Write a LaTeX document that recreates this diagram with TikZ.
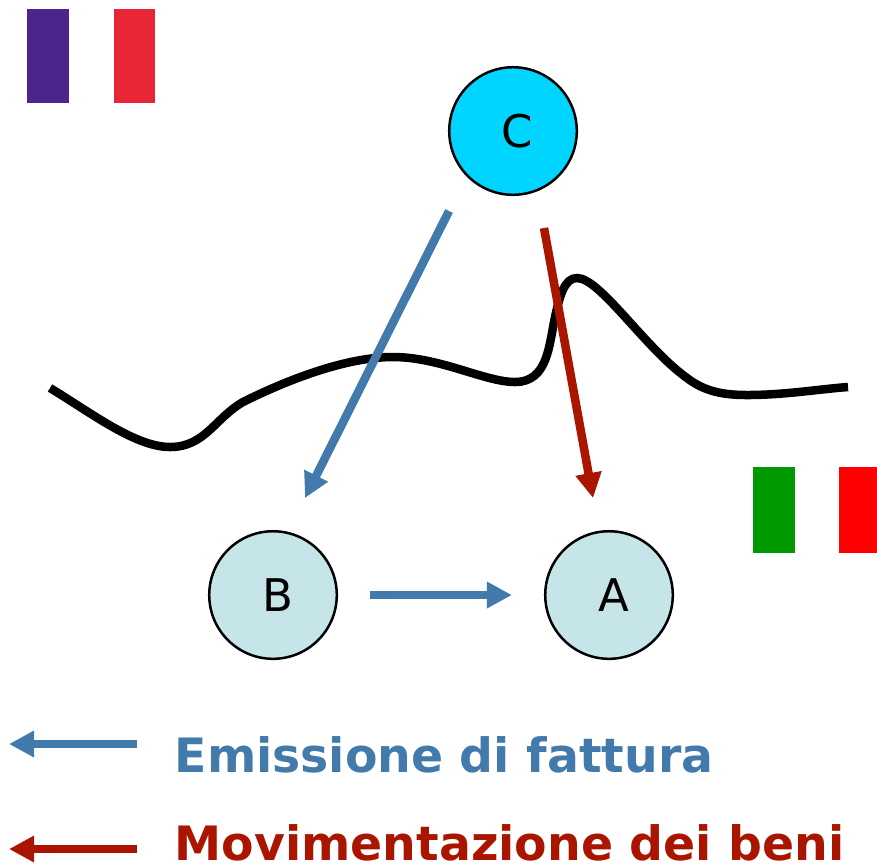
\documentclass[tikz,border=0pt]{standalone}
\usepackage{fontspec}
\setmainfont{DejaVu Sans}
\usetikzlibrary{arrows.meta}

\definecolor{fattura}{HTML}{427BAB}
\definecolor{beni}{HTML}{AA1500}
\definecolor{celeste}{HTML}{00D5FF}
\definecolor{acqua}{HTML}{C5E5E8}
\definecolor{viola}{HTML}{4B248C}
\definecolor{rosso}{HTML}{E92636}
\definecolor{verde}{HTML}{009900}

\tikzset{
  soggetto/.style = {circle, draw=black, line width=0.025cm, minimum size=1.275cm,
    inner sep=0pt, font=\fontsize{12.8}{15}\selectfont},
  freccia/.style = {line width=0.085cm, -{Triangle[length=0.25cm,width=0.25cm]}},
  legenda/.style = {anchor=base west, inner sep=0pt, font=\fontsize{13.46}{16}\selectfont\bfseries}
}

\begin{document}
\begin{tikzpicture}[x=0.01cm, y=-0.01cm]
  \useasboundingbox (0,0) rectangle (877,863);

  % Flags
  \fill[viola] (27,9) rectangle (69,103);
  \fill[rosso] (114,9) rectangle (155,103);
  \fill[verde] (753,467) rectangle (795,553);
  \fill[red] (839,467) rectangle (877,553);

  % Border
  \draw[line width=0.085cm] (50,388)
    .. controls (90,412) and (135,447) .. (170,447)
    .. controls (205,447) and (215,418) .. (243,402)
    .. controls (285,381) and (345,357) .. (393,357)
    .. controls (440,357) and (485,382) .. (515,382)
    .. controls (548,382) and (549,345) .. (555,317)
    .. controls (560,294) and (565,278) .. (577,278)
    .. controls (600,278) and (645,348) .. (687,378)
    .. controls (705,392) and (725,395) .. (747,395)
    .. controls (785,395) and (820,389) .. (848,387);

  % Subjects
  \foreach \name/\x/\y/\fillcolor in {C/513/131/celeste, B/273/595/acqua, A/609/595/acqua} {
    \node[soggetto, fill=\fillcolor] (\name) at (\x,\y)
      {\raisebox{-0.03cm}{\hspace{0.09cm}\name}};
  }

  % Free ends of the arrows
  \coordinate (cstart) at (449,211);
  \coordinate (bend) at (305,498);
  \coordinate (dstart) at (544,228);
  \coordinate (aend) at (593,498);
  \coordinate (lfstart) at (137,744);
  \coordinate (lfend) at (9,744);
  \coordinate (lbstart) at (137,849);
  \coordinate (lbend) at (9,849);

  \draw[freccia, fattura] (cstart) -- (bend);
  \draw[freccia, beni] (dstart) -- (aend);
  \draw[freccia, fattura, shorten <=0.32cm, shorten >=0.32cm] (B) -- (A);

  % Legend
  \draw[freccia, fattura] (lfstart) -- (lfend);
  \draw[freccia, beni] (lbstart) -- (lbend);
  \node[legenda, text=fattura] (lf) at (174,772) {Emissione di fattura};
  \node[legenda, text=beni] (lb) at (174,860) {Movimentazione dei beni};
\end{tikzpicture}
\end{document}
